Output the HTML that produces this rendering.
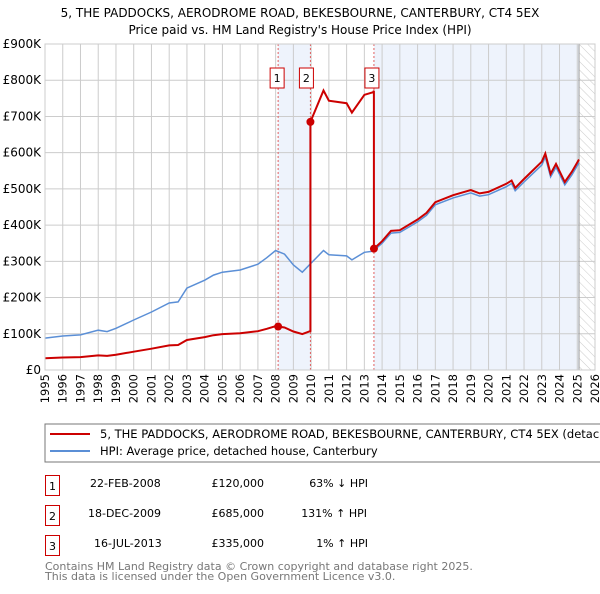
<!DOCTYPE html>
<html><head><meta charset="utf-8"><style>
body{margin:0;background:#fff;font-family:"DejaVu Sans","Liberation Sans",sans-serif;overflow:hidden;}
svg text{font-family:"DejaVu Sans","Liberation Sans",sans-serif;}
</style></head><body>
<svg id="c" width="600" height="590" viewBox="0 0 600 590" xmlns="http://www.w3.org/2000/svg">
<text x="300" y="17" font-size="12" text-anchor="middle">5, THE PADDOCKS, AERODROME ROAD, BEKESBOURNE, CANTERBURY, CT4 5EX</text>
<text x="300" y="34" font-size="12" text-anchor="middle">Price paid vs. HM Land Registry's House Price Index (HPI)</text>
<defs><pattern id="hatch" width="6" height="6" patternUnits="userSpaceOnUse" patternTransform="rotate(-45)"><line x1="0" y1="0" x2="0" y2="6" stroke="#ccc" stroke-width="1"/></pattern></defs>
<g id="plot"></g>
<rect x="45" y="424" width="560" height="38" fill="#fff" stroke="#777"/>
<line x1="50" y1="434" x2="90" y2="434" stroke="#cc0000" stroke-width="2"/>
<text x="100" y="438" font-size="11.5">5, THE PADDOCKS, AERODROME ROAD, BEKESBOURNE, CANTERBURY, CT4 5EX (detached hou</text>
<line x1="50" y1="451" x2="90" y2="451" stroke="#5b8fd6" stroke-width="2"/>
<text x="100" y="455" font-size="11.5">HPI: Average price, detached house, Canterbury</text>
<g font-size="11">
<rect x="45.5" y="475.5" width="14" height="20" fill="none" stroke="#cc0000"/><text x="52.5" y="490" text-anchor="middle">1</text>
<text x="90" y="487">22-FEB-2008</text><text x="264" y="487" text-anchor="end">£120,000</text><text x="368" y="487" text-anchor="end">63% ↓ HPI</text>
<rect x="45.5" y="505.5" width="14" height="20" fill="none" stroke="#cc0000"/><text x="52.5" y="520" text-anchor="middle">2</text>
<text x="88" y="517">18-DEC-2009</text><text x="264" y="517" text-anchor="end">£685,000</text><text x="367" y="517" text-anchor="end">131% ↑ HPI</text>
<rect x="45.5" y="535.5" width="14" height="20" fill="none" stroke="#cc0000"/><text x="52.5" y="550" text-anchor="middle">3</text>
<text x="94" y="547">16-JUL-2013</text><text x="264" y="547" text-anchor="end">£335,000</text><text x="368" y="547" text-anchor="end">1% ↑ HPI</text>
</g>
<text x="45" y="570" font-size="11" fill="#777">Contains HM Land Registry data © Crown copyright and database right 2025.</text>
<text x="45" y="580" font-size="11" fill="#777">This data is licensed under the Open Government Licence v3.0.</text>
</svg>
<script>
const hpiYears=[1995,1996,1997,1998,1998.5,1999,2000,2001,2002,2002.5,2003,2004,2004.5,2005,2006,2007,2007.5,2008,2008.5,2009,2009.5,2010,2010.7,2011,2012,2012.3,2013,2013.5,2014,2014.5,2015,2016,2016.5,2017,2018,2019,2019.5,2020,2021,2021.3,2021.5,2022,2023,2023.2,2023.5,2023.8,2024.3,2024.7,2025.1];
const hpiValues=[88,94,97,110,106,115,138,160,185,188,226,248,262,270,276,292,310,330,320,290,270,295,330,318,315,304,325,328,350,378,380,409,427,456,475,489,480,484,506,515,495,519,566,588,533,560,511,539,572];
const saleYears=[2008.14,2009.96,2013.54];
const salePrices=[120,685,335];
const saleLabels=["1","2","3"];
const yTicks=[0,100,200,300,400,500,600,700,800,900];
const yTickLabels=["£0","£100K","£200K","£300K","£400K","£500K","£600K","£700K","£800K","£900K"];
const xTicks=[1995,1996,1997,1998,1999,2000,2001,2002,2003,2004,2005,2006,2007,2008,2009,2010,2011,2012,2013,2014,2015,2016,2017,2018,2019,2020,2021,2022,2023,2024,2025,2026];
const L=45,R=595,T=44,B=370,x0=1995,x1=2026,ymax=900,dataEnd=2025.1;
const X=v=>L+(v-x0)/(x1-x0)*(R-L);
const Y=v=>B-v/ymax*(B-T);
const NS="http://www.w3.org/2000/svg";
const g=document.getElementById('plot');
function mk(t,a,p){const e=document.createElementNS(NS,t);for(const k in a)e.setAttribute(k,a[k]);(p||g).appendChild(e);return e;}
function hpiAt(t){for(let i=0;i<hpiYears.length-1;i++){if(t<=hpiYears[i+1]){const f=(t-hpiYears[i])/(hpiYears[i+1]-hpiYears[i]);return hpiValues[i]+f*(hpiValues[i+1]-hpiValues[i]);}}return hpiValues[hpiValues.length-1];}
let e;
e=mk('rect',{x:X(saleYears[0]),y:T,width:X(saleYears[1])-X(saleYears[0]),height:B-T,fill:'#eef3fc'});


e=mk('rect',{x:X(saleYears[2]),y:T,width:X(dataEnd)-X(saleYears[2]),height:B-T,fill:'#eef3fc'});


e=mk('rect',{x:X(dataEnd),y:T,width:R-X(dataEnd),height:B-T,fill:'url(#hatch)'});


xTicks.forEach(t=>{const x=X(t);
 e=mk('line',{x1:x,y1:T,x2:x,y2:B,stroke:'#ccc'});
 
 
 e=mk('text',{x:0,y:0,'font-size':11.5,'text-anchor':'end',transform:`translate(${x+4},374) rotate(-90)`});e.textContent=t;
 
 });
yTicks.forEach((t,i)=>{const y=Y(t);
 e=mk('line',{x1:L,y1:y,x2:R,y2:y,stroke:'#ccc'});
 
 
 e=mk('text',{x:L-4,y:y+4,'font-size':12,'text-anchor':'end'});e.textContent=yTickLabels[i];
 
 });
e=mk('line',{x1:X(dataEnd),y1:T,x2:X(dataEnd),y2:B,stroke:'#999'});


saleYears.forEach((s,i)=>{const x=X(s);
 e=mk('line',{x1:x,y1:T,x2:x,y2:B,stroke:'#e06060','stroke-dasharray':'2,2'});
 
 
 const bx=x-(i==2?2:i==1?4:1);
 e=mk('rect',{x:bx-7,y:68,width:14,height:20,fill:'#fff',stroke:'#cc0000'});
 
 
 e=mk('text',{x:bx,y:82,'font-size':11,'text-anchor':'middle'});e.textContent=saleLabels[i];
 
 });
let pts=hpiYears.map((t,i)=>X(t).toFixed(1)+','+Y(hpiValues[i]).toFixed(1));
e=mk('polyline',{points:pts.join(' '),fill:'none',stroke:'#5b8fd6','stroke-width':1.5});


let rp=[];const sample=[...hpiYears,...saleYears].sort((a,b)=>a-b);
sample.forEach(t=>{let k=-1;for(let j=0;j<saleYears.length;j++)if(t>=saleYears[j])k=j;const j=Math.max(k,0);
 const r=salePrices[j]/hpiAt(saleYears[j]);
 if(saleYears.includes(t)&&k>0){const rprev=salePrices[k-1]/hpiAt(saleYears[k-1]);rp.push(X(t).toFixed(1)+','+Y(hpiAt(t)*rprev).toFixed(1));}
 rp.push(X(t).toFixed(1)+','+Y(hpiAt(t)*r).toFixed(1));});
e=mk('polyline',{points:rp.join(' '),fill:'none',stroke:'#cc0000','stroke-width':2});


saleYears.forEach((s,i)=>{e=mk('circle',{cx:X(s),cy:Y(salePrices[i]),r:4,fill:'#cc0000'});
 
 });
e=mk('rect',{x:L,y:T,width:R-L,height:B-T,fill:'none',stroke:'#ccc'});


</script>
</body></html>
